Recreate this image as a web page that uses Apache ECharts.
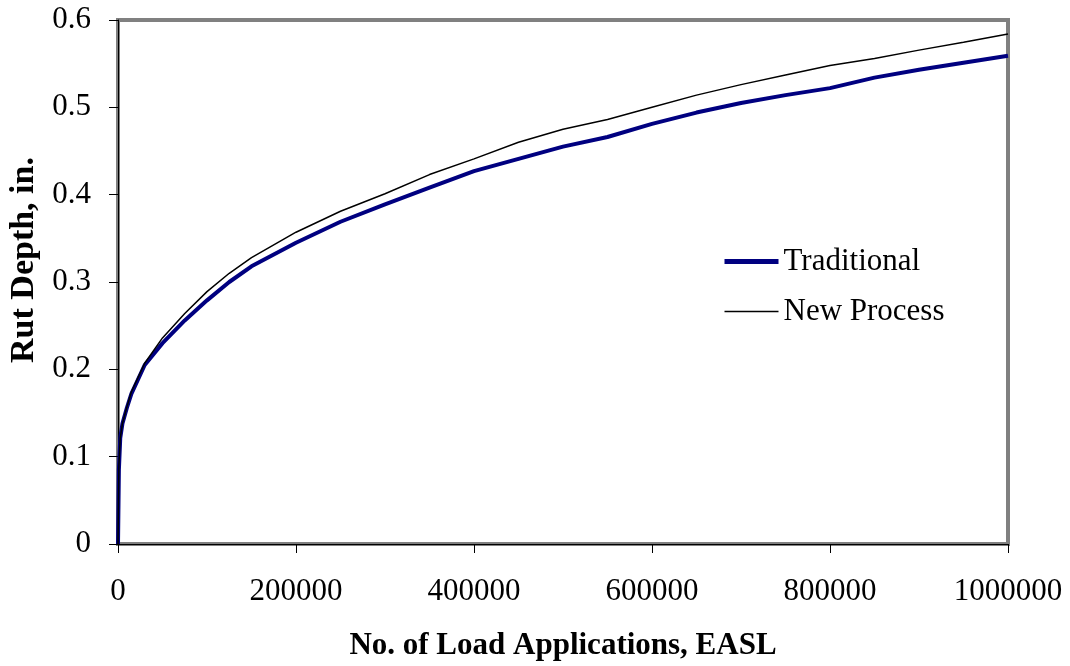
<!DOCTYPE html>
<html>
<head>
<meta charset="utf-8">
<script src="https://cdn.jsdelivr.net/npm/echarts@6/dist/echarts.min.js"></script>
<style>html,body{margin:0;padding:0;background:#fff;}#c{width:1070px;height:666px;}</style>
</head>
<body>
<div id="c"></div>
<script>
const loads = [0, 1000, 2500, 5000, 10000, 15000, 30000, 50000, 75000, 100000, 125000, 150000, 200000, 250000, 300000, 350000, 400000, 450000, 500000, 550000, 600000, 650000, 700000, 750000, 800000, 850000, 900000, 950000, 1000000];
const traditional = [0, 0.085, 0.121, 0.138, 0.156, 0.172, 0.205, 0.230, 0.256, 0.279, 0.300, 0.318, 0.345, 0.369, 0.389, 0.408, 0.427, 0.441, 0.455, 0.466, 0.481, 0.494, 0.505, 0.514, 0.522, 0.534, 0.543, 0.551, 0.559];
const newProcess = [0, 0.09, 0.121, 0.138, 0.157, 0.174, 0.207, 0.236, 0.264, 0.289, 0.310, 0.328, 0.357, 0.381, 0.401, 0.423, 0.441, 0.460, 0.475, 0.486, 0.500, 0.514, 0.526, 0.537, 0.548, 0.556, 0.5655, 0.5745, 0.584];
const seriesNames = ['Traditional', 'New Process'];
const xTitle = 'No. of Load Applications, EASL';
const yTitle = 'Rut Depth, in.';

const font = 'Liberation Serif, Times New Roman, serif';
const chart = echarts.init(document.getElementById('c'));
chart.setOption({
  animation: false,
  backgroundColor: '#fff',
  grid: { left: 118, top: 20, width: 890, height: 524, show: true, borderColor: '#808080', borderWidth: 4,
    backgroundColor: 'transparent', containLabel: false, outerBoundsMode: 'none' },
  legend: {
    orient: 'vertical', left: 722, top: 246, padding: 0, itemWidth: 54, itemHeight: 14, itemGap: 19,
    textStyle: { fontFamily: font, fontSize: 31, color: '#000' },
    itemStyle: { opacity: 0 },
    data: [
      { name: seriesNames[0], lineStyle: { color: '#000080', width: 5, opacity: 1 } },
      { name: seriesNames[1], lineStyle: { color: '#000', width: 1.5, opacity: 1 } }
    ]
  },
  graphic: [{
    type: 'text', x: 24, y: 260, rotation: Math.PI / 2,
    style: { text: yTitle, fontFamily: font, fontSize: 34, fontWeight: 'bold', fill: '#000', align: 'center', verticalAlign: 'middle' }
  }],
  xAxis: {
    type: 'value', min: 0, max: 1000000, interval: 200000, offset: 1,
    name: xTitle, nameLocation: 'middle', nameGap: 85,
    nameTextStyle: { fontFamily: font, fontSize: 31, fontWeight: 'bold', color: '#000' },
    axisLine: { show: true, lineStyle: { color: '#000', width: 1 } },
    axisTick: { show: true, inside: false, length: 9, lineStyle: { color: '#000' } },
    axisLabel: { fontFamily: font, fontSize: 31, color: '#000', margin: 31, formatter: v => String(Math.round(v)) },
    splitLine: { show: false }
  },
  yAxis: {
    type: 'value', min: 0, max: 0.6, interval: 0.1, offset: 3,
    axisLine: { show: true, lineStyle: { color: '#000', width: 1 } },
    axisTick: { show: true, inside: false, length: 9, lineStyle: { color: '#000' } },
    axisLabel: { fontFamily: font, fontSize: 31, color: '#000', margin: 24, formatter: v => String(Math.round(v * 10) / 10) },
    splitLine: { show: false }
  },
  series: [
    { name: seriesNames[0], type: 'line', data: loads.map((x, i) => [x, traditional[i]]), symbol: 'none', showSymbol: false,
      lineStyle: { color: '#000080', width: 4 }, itemStyle: { color: '#000080' }, z: 2 },
    { name: seriesNames[1], type: 'line', data: loads.map((x, i) => [x, newProcess[i]]), symbol: 'none', showSymbol: false,
      lineStyle: { color: '#000', width: 1.5 }, itemStyle: { color: '#000' }, z: 3 }
  ]
});
</script>
</body>
</html>
